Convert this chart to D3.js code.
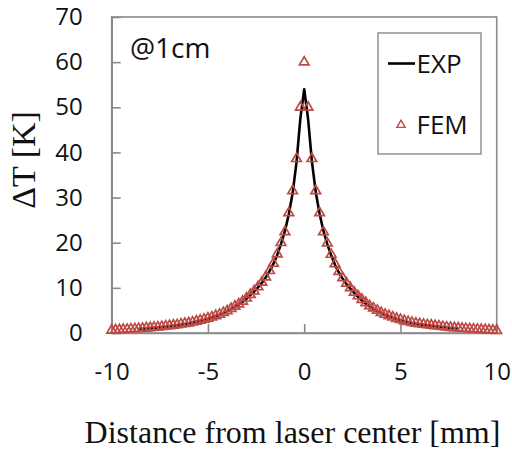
<!DOCTYPE html>
<html>
<head>
<meta charset="utf-8">
<script src="https://cdn.jsdelivr.net/npm/d3@7"></script>
<style>
  body { margin: 0; background: #fff; }
  svg { display: block; }
</style>
</head>
<body>
<div id="chart"></div>
<script>
// FEM simulation points (triangles)
const femDist = [
  -10, -9.8, -9.6, -9.4, -9.2, -9, -8.8, -8.6, -8.4, -8.2, -8, -7.8, -7.6, -7.4, -7.2, -7, -6.8, -6.6, -6.4, -6.2,
  -6, -5.8, -5.6, -5.4, -5.2, -5, -4.8, -4.6, -4.4, -4.2, -4, -3.8, -3.6, -3.4, -3.2, -3, -2.8, -2.6, -2.4, -2.2,
  -2, -1.8, -1.6, -1.4, -1.2, -1, -0.8, -0.6, -0.4, -0.2, 0,
  0.2, 0.4, 0.6, 0.8, 1, 1.2, 1.4, 1.6, 1.8, 2, 2.2, 2.4, 2.6, 2.8, 3, 3.2, 3.4, 3.6, 3.8, 4,
  4.2, 4.4, 4.6, 4.8, 5, 5.2, 5.4, 5.6, 5.8, 6, 6.2, 6.4, 6.6, 6.8, 7, 7.2, 7.4, 7.6, 7.8, 8,
  8.2, 8.4, 8.6, 8.8, 9, 9.2, 9.4, 9.6, 9.8, 10
];
const femTemp = [
  0.6, 0.65, 0.7, 0.75, 0.8, 0.85, 0.9, 0.95, 1.0, 1.1, 1.15, 1.25, 1.3, 1.4, 1.5, 1.6, 1.7, 1.8, 1.95, 2.1,
  2.2, 2.4, 2.6, 2.8, 3.0, 3.25, 3.5, 3.8, 4.1, 4.5, 4.9, 5.4, 5.9, 6.4, 7.0, 7.7, 8.5, 9.3, 10.2, 11.2,
  12.4, 13.8, 15.4, 17.5, 20.0, 22.4, 26.6, 31.5, 38.6, 50, 60,
  50, 38.6, 31.5, 26.6, 22.4, 19.9, 17.4, 15.3, 13.6, 12.2, 11.0, 10.0, 9.0, 8.2, 7.4, 6.7, 6.0, 5.5, 5.0, 4.5,
  4.1, 3.8, 3.5, 3.2, 2.95, 2.7, 2.5, 2.3, 2.15, 2.0, 1.9, 1.8, 1.7, 1.6, 1.5, 1.4, 1.3, 1.2, 1.15, 1.1,
  1.0, 0.95, 0.9, 0.85, 0.8, 0.75, 0.7, 0.65, 0.6, 0.55
];

// measured profile (line)
const expDist = [
  -8.6, -8.4, -8.2, -8, -7.8, -7.6, -7.4, -7.2, -7, -6.8, -6.6, -6.4, -6.2, -6, -5.8, -5.6, -5.4, -5.2, -5,
  -4.8, -4.6, -4.4, -4.2, -4, -3.8, -3.6, -3.4, -3.2, -3, -2.8, -2.6, -2.4, -2.2, -2, -1.8, -1.6, -1.4, -1.2, -1,
  -0.8, -0.6, -0.4, -0.2, 0, 0.2, 0.4, 0.6, 0.8, 1, 1.2, 1.4, 1.6, 1.8, 2, 2.2, 2.4, 2.6, 2.8, 3,
  3.2, 3.4, 3.6, 3.8, 4, 4.2, 4.4, 4.6, 4.8, 5, 5.2, 5.4, 5.6, 5.8, 6, 6.2, 6.4, 6.6, 6.8, 7, 7.2, 7.4, 7.6, 7.8, 8
];
const expTemp = [
  0.9, 0.95, 1.0, 1.1, 1.15, 1.2, 1.3, 1.4, 1.5, 1.6, 1.7, 1.85, 2.0, 2.1, 2.3, 2.5, 2.7, 2.9, 3.1,
  3.4, 3.7, 4.0, 4.4, 4.8, 5.3, 5.8, 6.3, 6.9, 7.6, 8.4, 9.2, 10.1, 11.1, 12.3, 13.7, 15.3, 17.3, 19.8, 22.6,
  26.3, 31.0, 37.8, 47.5, 54, 47.5, 38.0, 31.2, 26.4, 22.6, 19.7, 17.2, 15.1, 13.4, 12.0, 10.8, 9.8, 8.9, 8.0, 7.2,
  6.5, 5.9, 5.3, 4.8, 4.4, 4.0, 3.7, 3.4, 3.1, 2.85, 2.6, 2.4, 2.2, 2.05, 1.9, 1.8, 1.7, 1.6, 1.5, 1.4, 1.3, 1.2, 1.1, 1.05, 1.0
];

const xTicks = [-10, -5, 0, 5, 10];
const yTicks = [0, 10, 20, 30, 40, 50, 60, 70];
const legendLabels = ["EXP", "FEM"];

const width = 512;
const height = 454;
const frameColor = "#8a8a8a";
const femColor = "#bd4a45";

const svg = d3.select("#chart")
  .append("svg")
  .attr("width", width)
  .attr("height", height);

const x = d3.scaleLinear().domain([-10, 10]).range([111.7, 496.7]);
const y = d3.scaleLinear().domain([0, 70]).range([333, 17]);

// plot frame
svg.append("rect")
  .attr("x", x(-10))
  .attr("y", y(70))
  .attr("width", x(10) - x(-10))
  .attr("height", y(0) - y(70))
  .attr("fill", "none")
  .attr("stroke", frameColor)
  .attr("stroke-width", 1.6);

// axes, ticks pointing inward; plain hyphen for negatives like the original
const yAxis = svg.append("g")
  .attr("transform", `translate(${x(-10)},0)`)
  .call(d3.axisLeft(y).tickValues(yTicks).tickFormat(d => String(d))
    .tickSizeInner(-9).tickSizeOuter(0).tickPadding(29));

const xAxis = svg.append("g")
  .attr("transform", `translate(0,${y(0)})`)
  .call(d3.axisBottom(x).tickValues(xTicks).tickFormat(d => String(d))
    .tickSizeInner(-9).tickSizeOuter(0).tickPadding(30));

[xAxis, yAxis].forEach(g => {
  g.select(".domain").attr("stroke", frameColor).attr("stroke-width", 1.6);
  g.selectAll(".tick line").attr("stroke", frameColor).attr("stroke-width", 1.6);
  g.selectAll(".tick text")
    .attr("fill", "#111")
    .style("font-family", "'Open Sans', sans-serif")
    .style("font-size", "24px");
});

// EXP line
const expPoints = expDist.map((d, i) => [d, expTemp[i]]);
const line = d3.line()
  .x(d => x(d[0]))
  .y(d => y(d[1]));

svg.append("path")
  .datum(expPoints)
  .attr("d", line)
  .attr("fill", "none")
  .attr("stroke", "#000")
  .attr("stroke-width", 2.6)
  .attr("stroke-linejoin", "round");

// FEM triangles
const tri = d3.symbol().type(d3.symbolTriangle).size(40);
const femPoints = femDist.map((d, i) => [d, femTemp[i]]);

svg.append("g")
  .selectAll("path")
  .data(femPoints)
  .enter().append("path")
  .attr("d", tri)
  .attr("transform", d => `translate(${x(d[0])},${y(d[1])})`)
  .attr("fill", "none")
  .attr("stroke", femColor)
  .attr("stroke-width", 1.7);

// annotation
svg.append("text")
  .attr("x", 130)
  .attr("y", 58)
  .style("font-family", "'Open Sans', sans-serif")
  .style("font-size", "28px")
  .attr("fill", "#111")
  .text("@1cm");

// legend
const legend = svg.append("g");
legend.append("rect")
  .attr("x", 378)
  .attr("y", 33)
  .attr("width", 103)
  .attr("height", 121)
  .attr("fill", "#fff")
  .attr("stroke", frameColor)
  .attr("stroke-width", 1.4);

legend.append("line")
  .attr("x1", 388).attr("x2", 415)
  .attr("y1", 63.5).attr("y2", 63.5)
  .attr("stroke", "#000")
  .attr("stroke-width", 2.6);

legend.append("path")
  .attr("d", d3.symbol().type(d3.symbolTriangle).size(30))
  .attr("transform", "translate(401,125)")
  .attr("fill", "none")
  .attr("stroke", femColor)
  .attr("stroke-width", 1.4);

legend.selectAll("text.lbl")
  .data(legendLabels)
  .enter().append("text")
  .attr("class", "lbl")
  .attr("x", 416.5)
  .attr("y", (d, i) => i === 0 ? 72.5 : 133.5)
  .style("font-family", "'Open Sans', sans-serif")
  .style("font-size", "26px")
  .attr("fill", "#111")
  .text(d => d);

// axis titles
svg.append("text")
  .attr("transform", "translate(35,160) rotate(-90)")
  .attr("text-anchor", "middle")
  .style("font-family", "'Liberation Serif', 'Times New Roman', serif")
  .style("font-size", "34px")
  .attr("fill", "#111")
  .text("ΔT [K]");

svg.append("text")
  .attr("x", 292.5)
  .attr("y", 443)
  .attr("text-anchor", "middle")
  .style("font-family", "'Liberation Serif', 'Times New Roman', serif")
  .style("font-size", "32px")
  .attr("fill", "#111")
  .text("Distance from laser center [mm]");
</script>
</body>
</html>
